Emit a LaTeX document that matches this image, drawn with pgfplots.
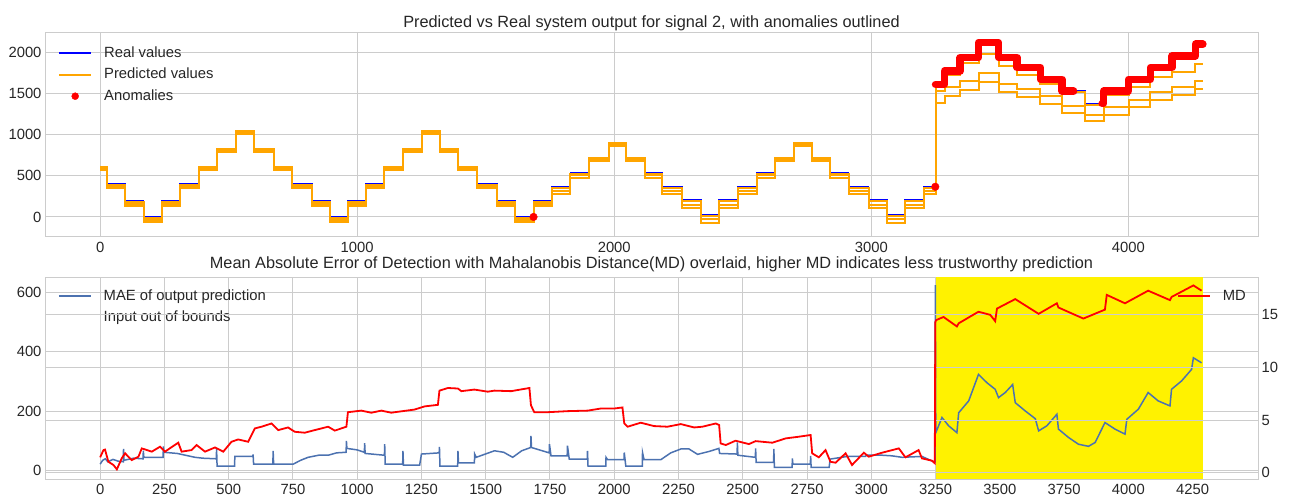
\documentclass[border=0pt]{standalone}
\usepackage{pgfplots}
\pgfplotsset{compat=1.18}
\usepackage{fontspec}
\setmainfont{Liberation Sans}
\definecolor{mplorange}{HTML}{FFA500}
\definecolor{mplblue}{HTML}{0000FF}
\definecolor{sbblue}{HTML}{4C72B0}
\definecolor{gridc}{HTML}{CCCCCC}
\definecolor{txt}{HTML}{262626}
\pgfplotsset{
  base/.style={
    scale only axis, width=1213pt,
    xmin=-214.5, xmax=4504.5,
    axis line style={gridc, line width=1pt},
    grid style={gridc, line width=1pt},
    major tick length=0pt,
    tick style={draw=none},
    ticklabel style={font=\fontsize{14.8}{16}\selectfont, text=txt},
    xticklabel style={inner sep=1pt, yshift=-3.9pt},
    /pgf/number format/assume math mode=true,
    /pgf/number format/1000 sep={},
    scaled ticks=false,
    title style={at={(0.5,1)}, anchor=base, inner sep=0pt, font=\fontsize{16.3}{18}\selectfont, text=txt},
    legend style={draw=none, fill=none, inner sep=0pt, font=\fontsize{14.8}{16}\selectfont, text=txt,
      nodes={inner sep=0pt, text height=11pt, text depth=3pt}, row sep=7.5pt, column sep=12pt},
    legend cell align=left,
    legend image code/.code={\draw[mark repeat=2, mark phase=2, #1] plot coordinates {(0pt,0pt) (16pt,0pt) (32pt,0pt)};},
  }
}
\begin{document}
\begin{tikzpicture}
\useasboundingbox (0,0) rectangle (1290pt,496pt);
% ---------------- top panel ----------------
\begin{axis}[base, at={(45pt,259pt)}, anchor=south west, height=204pt,
  ymin=-244, ymax=2237,
  xtick={0,1000,2000,3000,4000}, ytick={0,500,1000,1500,2000},
  grid=major,
  title={Predicted vs Real system output for signal 2, with anomalies outlined},
  title style={yshift=-1pt},
  legend style={at={(0,1)}, anchor=north west, xshift=13pt, yshift=-13pt}]
\addlegendimage{mplblue, line width=1.5pt, mark=none}
\addlegendentry{Real values}
\addlegendimage{mplorange, line width=2pt, mark=none}
\addlegendentry{Predicted values}
\addlegendimage{red, only marks, mark=*, mark size=3.5pt}
\addlegendentry{Anomalies}
\addplot[mplblue, line width=1.5pt, const plot, forget plot] coordinates {
(0,600) (26,400) (97,200) (169,0) (240,200) (311,400) (383,600) (454,800) (528,1000) (597,800) (675,600) (746,400) (824,200) (895,0) (963,200) (1035,400) (1105,600) (1178,800) (1251,1000) (1323,800) (1394,600) (1466,400) (1543,200) (1615,0) (1686,200) (1757,367) (1829,535) (1900,710) (1978,875) (2045,710) (2121,535) (2185,367) (2263,204) (2339,30) (2406,204) (2481,367) (2555,535) (2626,705) (2698,877) (2769,705) (2840,535) (2912,367) (2990,204) (3061,30) (3132,204) (3204,367) (3250,1612) (3285,1775) (3346,1938) (3418,2122) (3495,1938) (3567,1816) (3658,1673) (3742,1530) (3833,1379) (3904,1530) (4001,1673) (4086,1816) (4170,1958) (4261,2101) (4290,2101)};
\addplot[mplorange, line width=2pt, const plot, forget plot] coordinates {
(0,605) (26,388) (97,186) (169,-12) (240,186) (311,388) (383,605) (454,822) (528,1040) (597,822) (675,605) (746,388) (824,186) (895,-12) (963,186) (1035,388) (1105,605) (1178,822) (1251,1040) (1323,822) (1394,605) (1466,388) (1543,186) (1615,-12) (1686,186) (1757,352) (1829,528) (1900,718) (1978,895) (2045,718) (2121,528) (2185,352) (2263,190) (2339,12) (2406,190) (2481,352) (2555,528) (2626,718) (2698,895) (2769,718) (2840,528) (2912,352) (2990,190) (3061,12) (3132,190) (3204,352) (3250,1583) (3285,1722) (3346,1869) (3418,1979) (3495,1836) (3567,1722) (3658,1612) (3742,1518) (3833,1367) (3904,1477) (4001,1583) (4086,1705) (4170,1763) (4261,1856) (4290,1856)};
\addplot[mplorange, line width=2pt, const plot, forget plot] coordinates {
(0,588) (26,368) (97,160) (169,-38) (240,160) (311,368) (383,588) (454,806) (528,1022) (597,806) (675,588) (746,368) (824,160) (895,-38) (963,160) (1035,368) (1105,588) (1178,806) (1251,1022) (1323,806) (1394,588) (1466,368) (1543,160) (1615,-38) (1686,160) (1757,318) (1829,505) (1900,698) (1978,880) (2045,698) (2121,505) (2185,318) (2263,150) (2339,-28) (2406,150) (2481,318) (2555,505) (2626,698) (2698,880) (2769,698) (2840,505) (2912,318) (2990,150) (3061,-28) (3132,150) (3204,318) (3250,1530) (3285,1583) (3346,1652) (3418,1754) (3495,1612) (3567,1550) (3658,1469) (3742,1346) (3833,1244) (3904,1338) (4001,1420) (4086,1518) (4170,1583) (4261,1652) (4290,1652)};
\addplot[mplorange, line width=2pt, const plot, forget plot] coordinates {
(0,572) (26,348) (97,128) (169,-62) (240,128) (311,348) (383,572) (454,790) (528,1004) (597,790) (675,572) (746,348) (824,128) (895,-62) (963,128) (1035,348) (1105,572) (1178,790) (1251,1004) (1323,790) (1394,572) (1466,348) (1543,128) (1615,-62) (1686,128) (1757,282) (1829,478) (1900,676) (1978,860) (2045,676) (2121,478) (2185,282) (2263,108) (2339,-70) (2406,108) (2481,282) (2555,478) (2626,676) (2698,860) (2769,676) (2840,478) (2912,282) (2990,108) (3061,-70) (3132,108) (3204,282) (3250,1387) (3285,1469) (3346,1542) (3418,1640) (3495,1518) (3567,1461) (3658,1379) (3742,1265) (3833,1163) (3904,1244) (4001,1338) (4086,1420) (4170,1477) (4261,1559) (4290,1559)};
\addplot[red, line width=7.5pt, const plot, line join=round, line cap=round, forget plot] coordinates {
(3250,1612) (3285,1775) (3346,1938) (3418,2122) (3495,1938) (3567,1816) (3658,1673) (3742,1530) (3787,1530)};
\addplot[red, line width=7.5pt, const plot, line join=round, line cap=round, forget plot] coordinates {
(3898,1379) (3904,1530) (4001,1673) (4086,1816) (4170,1958) (4261,2101) (4290,2101)};
\addplot[only marks, mark=*, mark size=3.8pt, red, forget plot] coordinates {(1686,0) (3249,367)};
\end{axis}
% ---------------- bottom panel, left axis ----------------
\begin{axis}[base, at={(45pt,17pt)}, anchor=south west, height=202pt,
  ymin=-28, ymax=652,
  xtick={0,250,500,750,1000,1250,1500,1750,2000,2250,2500,2750,3000,3250,3500,3750,4000,4250},
  ytick={0,200,400,600},
  grid=major,
  title={Mean Absolute Error of Detection with Mahalanobis Distance(MD) overlaid, higher MD indicates less trustworthy prediction},
  title style={yshift=2.5pt},
  legend style={at={(0,1)}, anchor=north west, xshift=13pt, yshift=-12pt}]
\addlegendimage{sbblue, line width=1.5pt, mark=none}
\addlegendentry{MAE of output prediction}
\addlegendimage{only marks, mark=*, mark size=0pt, draw opacity=0, fill opacity=0}
\addlegendentry{Input out of bounds}
\addplot[fill=yellow, draw=none, forget plot] coordinates {(3250,-28) (3250,652) (4290,652) (4290,-28)} -- cycle;
\addplot[sbblue, line width=1.5pt, forget plot] coordinates {
(0,22) (10,35) (20,40) (30,30) (50,38) (70,32) (90,30) (91,73) (93,35) (130,42) (167,40) (168,67) (170,45) (245,45) (246,82) (248,62) (300,58) (369,45) (400,42) (452,40) (453,73) (455,15) (523,15) (524,48) (594,48) (595,55) (597,22) (672,22) (673,67) (675,22) (751,22) (780,35) (809,45) (850,52) (887,52) (920,60) (957,62) (958,100) (960,75) (1000,70) (1028,62) (1029,93) (1031,58) (1106,52) (1107,89) (1109,22) (1177,22) (1178,67) (1180,19) (1243,19) (1250,56) (1319,60) (1320,80) (1322,15) (1391,15) (1392,67) (1394,26) (1456,26) (1457,56) (1463,45) (1534,67) (1570,62) (1605,45) (1640,67) (1675,78) (1676,117) (1678,78) (1747,60) (1748,89) (1754,50) (1817,50) (1818,84) (1825,39) (1895,39) (1896,67) (1898,15) (1967,15) (1968,45) (1974,37) (2038,37) (2039,61) (2045,15) (2109,15) (2110,61) (2116,37) (2181,37) (2220,60) (2259,73) (2291,73) (2324,55) (2370,65) (2407,75) (2410,58) (2478,56) (2479,95) (2481,52) (2549,45) (2550,75) (2552,28) (2620,28) (2621,73) (2623,11) (2692,11) (2693,41) (2695,22) (2763,22) (2764,50) (2766,11) (2836,11) (2840,39) (2907,48) (2978,48) (2980,52) (3043,52) (3080,50) (3120,45) (3197,48) (3243,30) (3248,30) (3249,625) (3251,128) (3275,179) (3301,151) (3333,128) (3340,195) (3379,235) (3417,324) (3450,296) (3482,274) (3495,246) (3521,263) (3550,290) (3560,229) (3599,201) (3638,175) (3651,134) (3683,151) (3722,190) (3728,140) (3767,112) (3806,89) (3845,82) (3871,95) (3909,162) (3948,140) (3987,123) (3994,173) (4039,207) (4077,263) (4116,235) (4162,218) (4168,274) (4207,302) (4246,341) (4253,380) (4285,363)};
\end{axis}
% ---------------- bottom panel, right axis ----------------
\begin{axis}[base, at={(45pt,17pt)}, anchor=south west, height=202pt,
  ymin=-0.6, ymax=18.6,
  hide x axis, axis y line*=right, y axis line style={draw=none},
  ytick={0,5,10,15},
  ymajorgrids, xmajorgrids=false,
  legend style={at={(1,1)}, anchor=north east, xshift=-12pt, yshift=-12pt}]
\addlegendimage{red, line width=1.8pt, mark=none}
\addlegendentry{MD}
\addplot[red, line width=1.8pt, forget plot] coordinates {
(0,1.46) (13,2.15) (19,2.2) (32,1.04) (52,0.73) (65,0.32) (84,1.36) (97,1.84) (123,1.2) (149,1.52) (162,2.31) (201,2.0) (233,2.47) (252,2.0) (304,2.85) (317,2.0) (356,2.15) (375,2.63) (408,2.0) (447,2.4) (479,2.0) (511,2.94) (537,3.16) (576,2.94) (602,4.21) (628,4.37) (667,4.68) (693,4.05) (731,4.3) (757,3.89) (796,3.8) (835,4.05) (887,4.37) (913,4.0) (958,4.37) (964,5.75) (1016,5.9) (1055,5.7) (1094,5.9) (1133,5.7) (1146,5.75) (1223,6.0) (1262,6.3) (1314,6.45) (1320,7.8) (1353,8.05) (1392,8.0) (1405,7.75) (1456,7.9) (1508,7.7) (1534,7.8) (1599,7.75) (1670,8.05) (1676,6.4) (1689,5.75) (1741,5.75) (1819,5.85) (1897,5.9) (1948,6.1) (2000,6.1) (2032,6.2) (2039,4.68) (2052,4.37) (2103,4.75) (2155,4.43) (2207,4.37) (2259,4.62) (2311,4.3) (2343,4.37) (2395,4.68) (2408,4.53) (2414,2.78) (2434,2.63) (2472,3.04) (2524,2.72) (2550,3.0) (2615,2.85) (2667,3.26) (2718,3.42) (2764,3.58) (2770,1.84) (2796,1.46) (2822,2.15) (2841,1.04) (2861,0.95) (2900,1.84) (2925,0.73) (2971,1.9) (2990,1.52) (3042,1.9) (3107,2.31) (3133,1.46) (3184,2.15) (3197,1.36) (3236,1.14) (3247,0.9) (3249,14.3) (3252,14.5) (3281,14.8) (3333,13.9) (3340,14.2) (3417,15.3) (3463,15.0) (3482,14.4) (3489,15.6) (3560,16.5) (3651,15.1) (3722,16.1) (3728,15.7) (3825,14.65) (3909,15.5) (3916,16.9) (3987,16.1) (4077,17.3) (4162,16.4) (4168,16.7) (4253,17.8) (4285,17.3)};
\end{axis}
\end{tikzpicture}
\end{document}
